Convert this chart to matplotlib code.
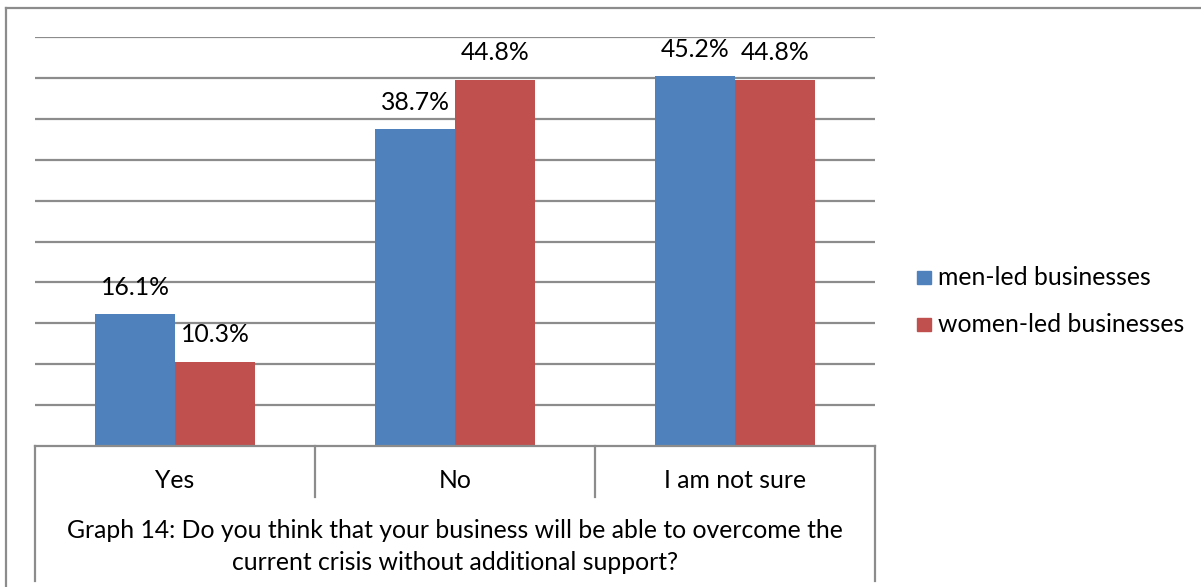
import matplotlib
matplotlib.use("Agg")
import matplotlib.pyplot as plt
from matplotlib.lines import Line2D
import numpy as np

categories = ["Yes", "No", "I am not sure"]
series_names = ["men-led businesses", "women-led businesses"]
men_led = [16.1, 38.7, 45.2]
women_led = [10.3, 44.8, 44.8]
title_lines = ["Graph 14: Do you think that your business will be able to overcome the",
               "current crisis without additional support?"]

BLUE = "#4F81BD"
RED = "#C0504D"
GRID = "#8C8C8C"
FONT = "Lato"
FS = 17.8

W, H = 1201, 587
fig = plt.figure(figsize=(W / 100, H / 100), dpi=100)
fig.patch.set_facecolor("white")

def fx(px):
    return px / W

def fy(py):
    return 1 - py / H

left, right, top, bottom = 35, 875, 37, 446
ax = fig.add_axes([fx(left), fy(bottom), fx(right - left), (bottom - top) / H])

x = np.arange(len(categories))
bw = 80 / 280
b1 = ax.bar(x - bw / 2, men_led, width=bw, color=BLUE, zorder=3, label=series_names[0])
b2 = ax.bar(x + bw / 2, women_led, width=bw, color=RED, zorder=3, label=series_names[1])

for bars, vals in ((b1, men_led), (b2, women_led)):
    for rect, v in zip(bars, vals):
        ax.annotate(f"{v:.1f}%", (rect.get_x() + rect.get_width() / 2, v),
                    xytext=(0, 27), textcoords="offset pixels",
                    ha="center", va="center", fontsize=FS, family=FONT, zorder=4)

ax.set_xlim(-0.5, len(categories) - 0.5)
ax.set_ylim(0, 50)
ax.set_yticks(np.arange(5, 51, 5))
ax.yaxis.grid(True, color=GRID, linewidth=1.6, zorder=0)
ax.tick_params(left=False, labelleft=False, bottom=False, labelbottom=False)
for s in ("left", "right", "top"):
    ax.spines[s].set_visible(False)
ax.spines["bottom"].set_color(GRID)
ax.spines["bottom"].set_linewidth(1.6)
ax.spines["bottom"].set_zorder(4)

# category box below the axis
lc = dict(color=GRID, linewidth=1.6)
n = len(categories)
for i in range(n + 1):
    xp = left + i * (right - left) / n
    yend = 581 if i in (0, n) else 497
    fig.add_artist(Line2D([fx(xp), fx(xp)], [fy(bottom), fy(yend)], **lc))
for i, c in enumerate(categories):
    xc = left + (i + 0.5) * (right - left) / n
    fig.text(fx(xc), fy(480), c, ha="center", va="center", fontsize=FS, family=FONT)
fig.text(fx((left + right) / 2), fy(530), title_lines[0], ha="center", va="center",
         fontsize=FS, family=FONT)
fig.text(fx((left + right) / 2), fy(563), title_lines[1], ha="center", va="center",
         fontsize=FS, family=FONT)

# outer chart frame
fig.add_artist(Line2D([fx(6), fx(6)], [fy(8), 0], **lc))
fig.add_artist(Line2D([fx(6), 1], [fy(8), fy(8)], **lc))

# legend
for j, (name, col) in enumerate(zip(series_names, (BLUE, RED))):
    yc = 278 + j * 47
    fig.patches.append(plt.Rectangle((fx(917), fy(yc + 6)), fx(14), 13 / H,
                                     color=col, transform=fig.transFigure, figure=fig))
    fig.text(fx(938), fy(yc), name, ha="left", va="center", fontsize=FS, family=FONT)

fig.savefig("out.png", dpi=100, facecolor="white")
